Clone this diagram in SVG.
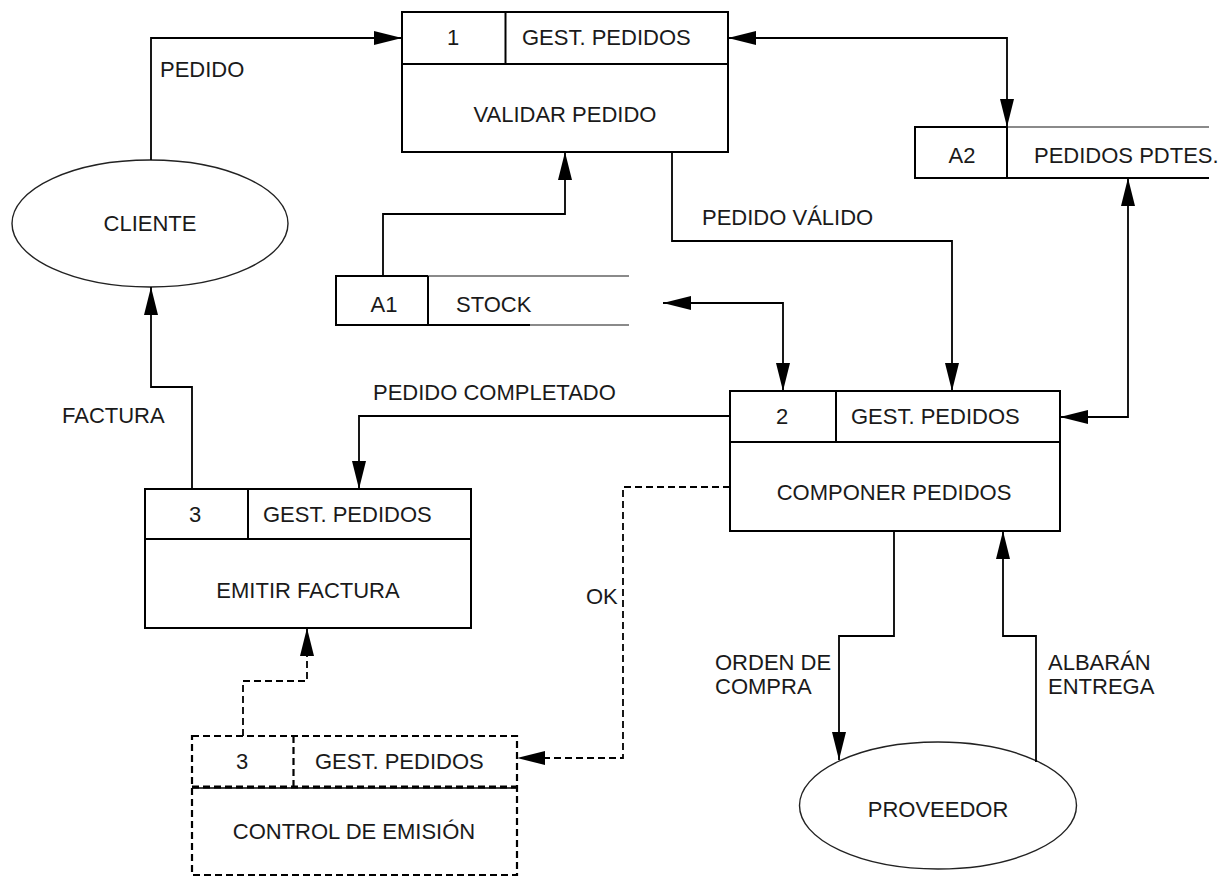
<svg xmlns="http://www.w3.org/2000/svg" width="1218" height="877" viewBox="0 0 1218 877">
<style>
  text { font-family: "Liberation Sans", Arial, sans-serif; font-size: 22px; fill: #1a1a1a; }
  .c { text-anchor: middle; }
  .box { fill: none; stroke: #000; stroke-width: 2; }
  .ln { fill: none; stroke: #000; stroke-width: 2; }
  .gray { fill: none; stroke: #8a8a8a; stroke-width: 2; }
  .ell { fill: none; stroke: #222; stroke-width: 1.4; }
  .dash { fill: none; stroke: #000; stroke-width: 2.2; stroke-dasharray: 7 4; }
  .flow { fill: none; stroke: #000; stroke-width: 1.8; }
  .flowd { fill: none; stroke: #000; stroke-width: 1.8; stroke-dasharray: 7 4; }
  .a { marker-end: url(#arr); }
  .b { marker-start: url(#arr); marker-end: url(#arr); }
</style>
<defs>
  <marker id="arr" markerUnits="userSpaceOnUse" markerWidth="30" markerHeight="14" refX="28" refY="7" orient="auto-start-reverse" viewBox="0 0 30 14">
    <path d="M0,0 L28,7 L0,14 Z" fill="#000"/>
  </marker>
</defs>
<rect width="1218" height="877" fill="#fff"/>

<g id="cliente">
  <ellipse class="ell" cx="150" cy="223.5" rx="138" ry="63.5"/>
  <text class="c" x="150" y="231">CLIENTE</text>
</g>

<g id="proceso1">
  <rect class="box" x="402" y="12" width="326" height="140"/>
  <line class="ln" x1="402" y1="64" x2="728" y2="64"/>
  <line class="ln" x1="505.5" y1="12" x2="505.5" y2="64"/>
  <text class="c" x="453" y="45">1</text>
  <text x="522" y="45">GEST. PEDIDOS</text>
  <text class="c" x="565" y="122">VALIDAR PEDIDO</text>
</g>

<g id="almacen-a2">
  <path class="ln" d="M1007,127 H915 V178 H1209"/>
  <line class="gray" x1="1007" y1="127" x2="1209" y2="127"/>
  <line class="ln" x1="1007" y1="127" x2="1007" y2="178"/>
  <text class="c" x="962" y="163">A2</text>
  <text x="1034" y="163">PEDIDOS PDTES.</text>
</g>

<g id="almacen-a1">
  <path class="ln" d="M428,276 H336 V325 H530"/>
  <line class="gray" x1="428" y1="276" x2="629" y2="276"/>
  <line class="gray" x1="530" y1="325" x2="629" y2="325"/>
  <line class="ln" x1="428" y1="276" x2="428" y2="325"/>
  <text class="c" x="384" y="312">A1</text>
  <text x="456" y="312">STOCK</text>
</g>

<g id="proceso2">
  <rect class="box" x="730" y="391" width="330" height="140"/>
  <line class="ln" x1="730" y1="442" x2="1060" y2="442"/>
  <line class="ln" x1="836" y1="391" x2="836" y2="442"/>
  <text class="c" x="782" y="424">2</text>
  <text x="851" y="424">GEST. PEDIDOS</text>
  <text class="c" x="894" y="500">COMPONER PEDIDOS</text>
</g>

<g id="proceso3">
  <rect class="box" x="145" y="489" width="326" height="139"/>
  <line class="ln" x1="145" y1="539" x2="471" y2="539"/>
  <line class="ln" x1="248" y1="489" x2="248" y2="539"/>
  <text class="c" x="195" y="522">3</text>
  <text x="263" y="522">GEST. PEDIDOS</text>
  <text class="c" x="308" y="598">EMITIR FACTURA</text>
</g>

<g id="control-emision">
  <rect class="dash" x="192" y="736" width="325" height="139"/>
  <line x1="192" y1="788" x2="517" y2="788" stroke="#000" stroke-width="1.5"/>
  <line x1="192" y1="787" x2="517" y2="787" stroke="#000" stroke-width="3" stroke-dasharray="7 4"/>
  <line class="dash" x1="293.5" y1="736" x2="293.5" y2="788"/>
  <text class="c" x="242" y="769">3</text>
  <text x="315" y="769">GEST. PEDIDOS</text>
  <text class="c" x="354" y="839">CONTROL DE EMISIÓN</text>
</g>

<g id="proveedor">
  <ellipse class="ell" cx="938" cy="805.5" rx="138.5" ry="63.5"/>
  <text class="c" x="938" y="817">PROVEEDOR</text>
</g>

<g id="connectors">
  <path class="flow a" d="M151,160 V38 H402"/>
  <path class="flow b" d="M728,38 H1007 V127"/>
  <path class="flow a" d="M383,276 V214 H565 V152"/>
  <path class="flow a" d="M672,152 V241 H952 V391"/>
  <path class="flow b" d="M663,303 H783 V391"/>
  <path class="flow b" d="M1060,417 H1128 V178"/>
  <path class="flow a" d="M730,416 H359 V489"/>
  <path class="flow a" d="M192,489 V387 H151 V287"/>
  <path class="flow a" d="M894,531 V636 H839 V760"/>
  <path class="flow a" d="M1036,762 V636 H1003 V531"/>
  <path class="flowd a" d="M730,487 H623 V758 H517"/>
  <path class="flowd a" d="M243,736 V681 H307 V628"/>
</g>

<g id="labels">
  <text x="160" y="77">PEDIDO</text>
  <text x="702" y="225">PEDIDO VÁLIDO</text>
  <text x="373" y="400">PEDIDO COMPLETADO</text>
  <text x="62" y="423">FACTURA</text>
  <text x="586" y="604">OK</text>
  <text x="715" y="670">ORDEN DE</text>
  <text x="715" y="694">COMPRA</text>
  <text x="1048" y="670">ALBARÁN</text>
  <text x="1048" y="694">ENTREGA</text>
</g>
</svg>
